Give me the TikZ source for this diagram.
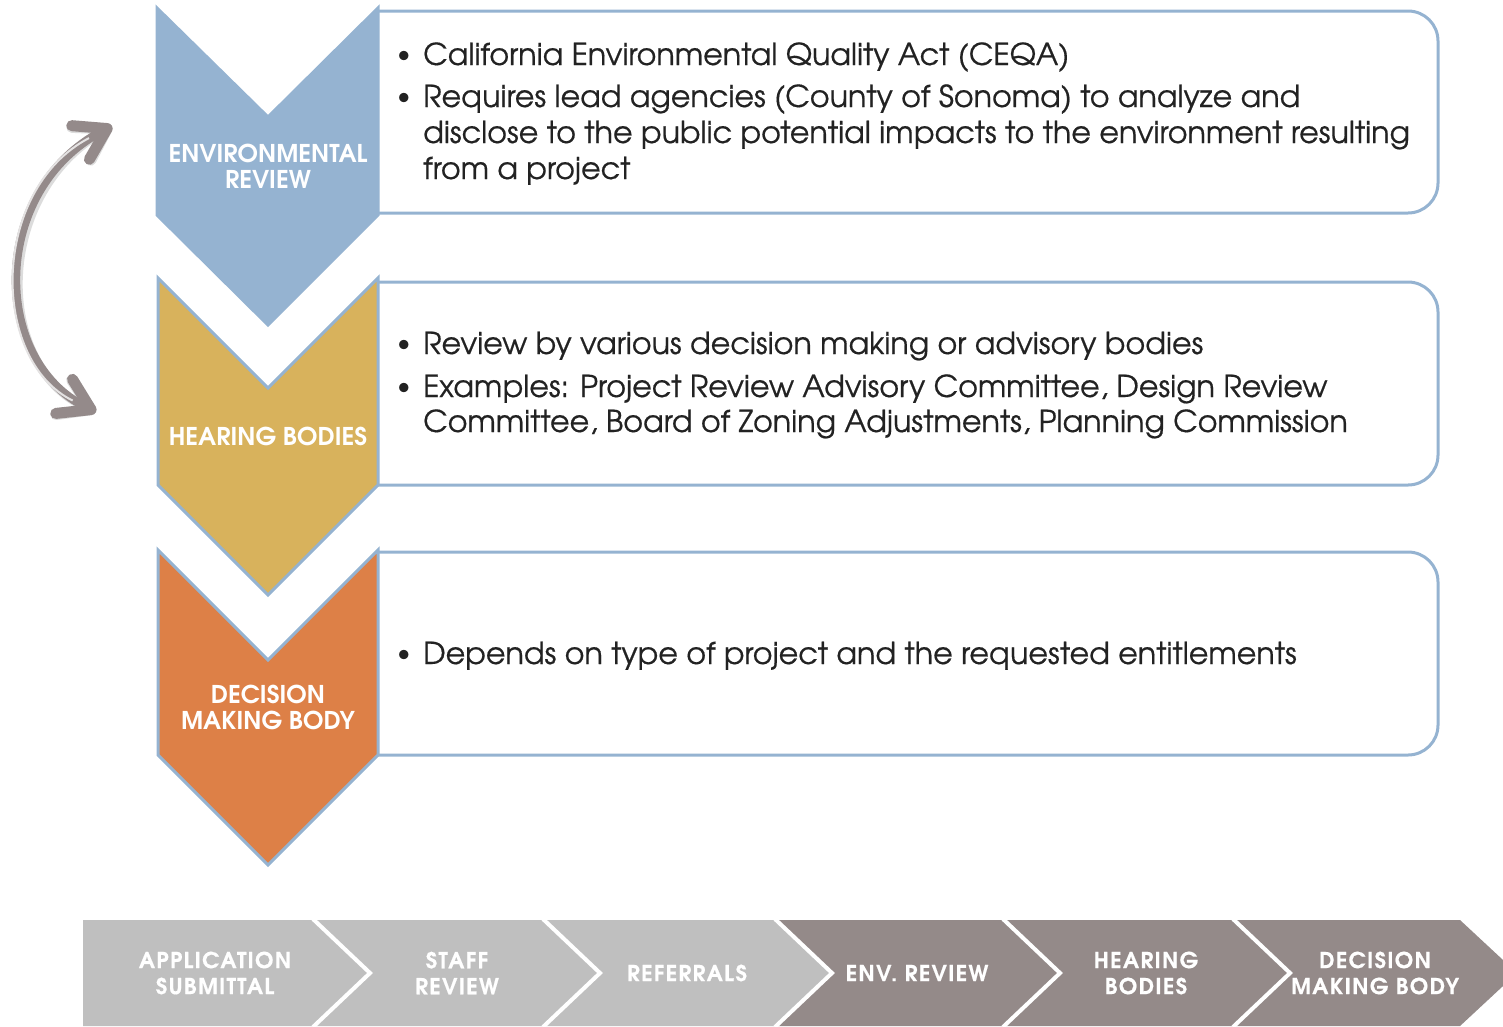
\documentclass[tikz,border=0pt]{standalone}
\usepackage{fontspec}
\setmainfont{texgyreadventor}[Extension=.otf, UprightFont=*-regular, BoldFont=*-bold, ItalicFont=*-italic, BoldItalicFont=*-bolditalic]
\newfontfamily\bodyfont{texgyreadventor}[Extension=.otf, UprightFont=*-regular, FakeBold=0.5]
\newfontfamily\barfont{texgyreadventor}[Extension=.otf, UprightFont=*-bold, LetterSpace=6, FakeBold=0.5]
\usetikzlibrary{arrows.meta}
\definecolor{cblue}{HTML}{95B3D1}
\definecolor{cgold}{HTML}{D8B25C}
\definecolor{corange}{HTML}{DD8047}
\definecolor{clgray}{HTML}{BFBFBF}
\definecolor{ctaupe}{HTML}{948A89}
\definecolor{carrow}{HTML}{948A8A}
\definecolor{ctext}{HTML}{222222}
\tikzset{mybarb/.tip={Straight Barb[length=30pt, width=38pt, line width=11pt, round]}}
\begin{document}
\begin{tikzpicture}[x=1pt,y=-1pt,
  boxstyle/.style={draw=cblue, line width=3pt, fill=white, rounded corners=30pt},
  chev/.style={draw=cblue, line width=3pt, line join=miter},
  chevlabel/.style={text=white, font=\bfseries\fontsize{24.5}{26}\selectfont, align=center, inner sep=0pt},
  txt/.style={anchor=base west, inner sep=0pt, text=ctext, font=\bodyfont\fontsize{30.2}{36}\selectfont},
  bul/.style={anchor=base west, inner sep=0pt, text=ctext, font=\fontsize{26}{30}\selectfont},
  barlabel/.style={text=white, font=\barfont\fontsize{22}{26}\selectfont, align=center, inner sep=0pt},
  sep/.style={draw=white, line width=4pt}
]
\useasboundingbox (0,0) rectangle (1503,1026);

% ---- curved double arrow ----
\coordinate (abot) at (96,412);
\coordinate (atop) at (112,126);
\draw[black!45, opacity=0.3, line width=9pt, mybarb-mybarb, xshift=3pt, yshift=-5pt]
  (abot) .. controls (-10,360) and (-10,190) .. (atop);
\draw[carrow, line width=8.5pt, mybarb-mybarb]
  (abot) .. controls (-10,360) and (-10,190) .. (atop);
\draw[white!75!carrow, line width=2pt, shorten <=26pt, shorten >=26pt]
  (abot) .. controls (-10,360) and (-10,190) .. (atop);

% ---- boxes ----
\filldraw[boxstyle] (378,11) -- (1438,11) -- (1438,213) -- (378,213);
\filldraw[boxstyle] (378,282) -- (1438,282) -- (1438,485) -- (378,485);
\filldraw[boxstyle] (378,552) -- (1438,552) -- (1438,755) -- (378,755);

% ---- chevrons ----
\filldraw[chev, fill=cblue] (157,8) -- (268,117) -- (378,8) -- (378,215) -- (268,325) -- (157,215) -- cycle;
\filldraw[chev, fill=cgold] (158,278) -- (268,388) -- (378,278) -- (378,485) -- (268,595) -- (158,485) -- cycle;
\filldraw[chev, fill=corange] (158,550) -- (268,660) -- (378,550) -- (378,755) -- (268,865) -- (158,755) -- cycle;

\node[chevlabel] (lenv) at (268,166) {ENVIRONMENTAL\\REVIEW};
\node[chevlabel] (lhear) at (268,436) {HEARING BODIES};
\node[chevlabel] (ldec) at (268,707) {DECISION\\MAKING BODY};

% ---- texts ----
\node[bul] (b11) at (397,62) {•};
\node[txt] (t11) at (423,65) {California Environmental Quality Act (CEQA)};
\node[bul] (b12) at (397,104) {•};
\node[txt] (t12) at (423,107) {Requires lead agencies (County of Sonoma) to analyze and};
\node[txt] (t13) at (423,143) {disclose to the public potential impacts to the environment resulting};
\node[txt] (t14) at (423,179) {from a project};

\node[bul] (b21) at (397,351) {•};
\node[txt] (t21) at (423,354) {Review by various decision making or advisory bodies};
\node[bul] (b22) at (397,394) {•};
\node[txt] (t22) at (423,397) {Examples: Project Review Advisory Committee, Design Review};
\node[txt] (t23) at (423,432) {Committee, Board of Zoning Adjustments, Planning Commission};

\node[bul] (b31) at (397,661) {•};
\node[txt] (t31) at (423,664) {Depends on type of project and the requested entitlements};

% ---- bottom process bar ----
\fill[clgray] (83,920) -- (313,920) -- (370,973) -- (313,1026) -- (83,1026) -- cycle;
\fill[clgray] (313,920) -- (543,920) -- (600,973) -- (543,1026) -- (313,1026) -- (370,973) -- cycle;
\fill[clgray] (543,920) -- (775,920) -- (832,973) -- (775,1026) -- (543,1026) -- (600,973) -- cycle;
\fill[ctaupe] (775,920) -- (1003,920) -- (1060,973) -- (1003,1026) -- (775,1026) -- (832,973) -- cycle;
\fill[ctaupe] (1003,920) -- (1233,920) -- (1290,973) -- (1233,1026) -- (1003,1026) -- (1060,973) -- cycle;
\fill[ctaupe] (1233,920) -- (1460,920) -- (1517,973) -- (1460,1026) -- (1233,1026) -- (1290,973) -- cycle;
\draw[sep] (313,919) -- (370,973) -- (313,1027);
\draw[sep] (543,919) -- (600,973) -- (543,1027);
\draw[sep] (775,919) -- (832,973) -- (775,1027);
\draw[sep] (1003,919) -- (1060,973) -- (1003,1027);
\draw[sep] (1233,919) -- (1290,973) -- (1233,1027);

\node[barlabel] (p1) at (215,973) {APPLICATION\\SUBMITTAL};
\node[barlabel] (p2) at (457,973) {STAFF\\REVIEW};
\node[barlabel] (p3) at (687,973) {REFERRALS};
\node[barlabel] (p4) at (917,973) {ENV. REVIEW};
\node[barlabel] (p5) at (1146,973) {HEARING\\BODIES};
\node[barlabel] (p6) at (1375,973) {DECISION\\MAKING BODY};
\end{tikzpicture}
\end{document}
